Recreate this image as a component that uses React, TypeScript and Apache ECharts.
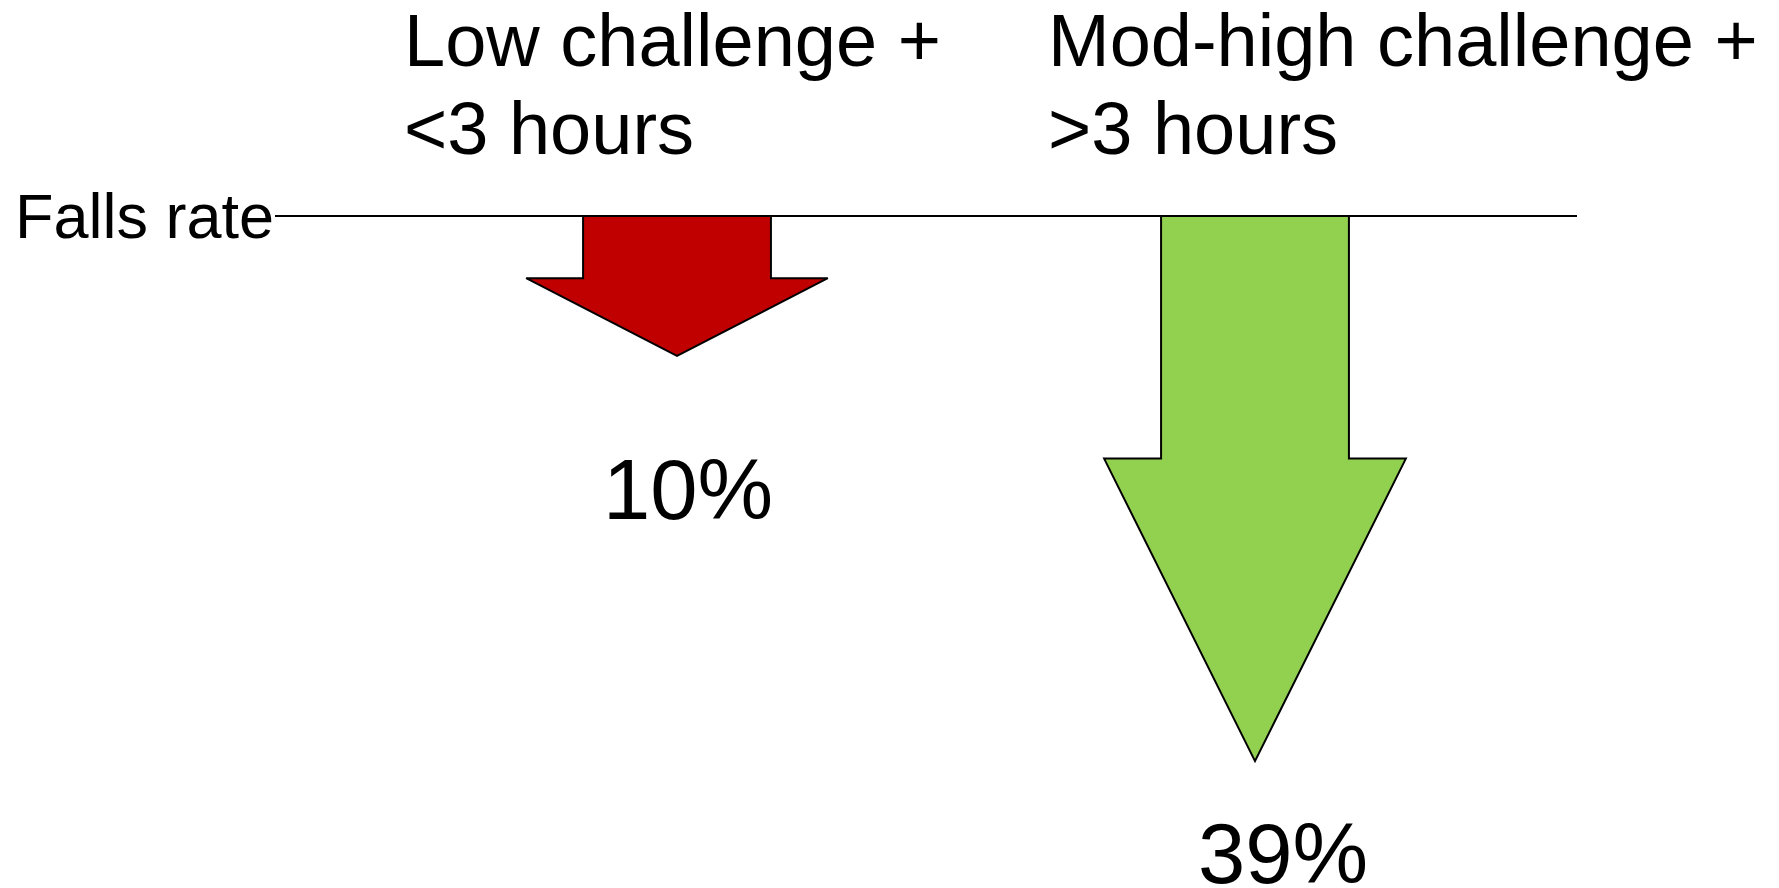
import React, { useEffect, useRef } from "react";
import * as echarts from "echarts";

// Two groups, each with its change in falls rate (percent, drawn downward)
const categories = ["Low challenge +\n<3 hours", "Mod-high challenge +\n>3 hours"];
const fallsReduction = [10, 39];
const arrowColors = ["#C00000", "#92D050"];
const axisName = "Falls rate";

const FONT = '"Liberation Sans", Arial, Helvetica, sans-serif';
const GRID_TOP = 216;

// Layout of the free-floating texts (pixel anchors)
const titleAnchors = [404, 1048];
const titleLineY = [40, 128.5];
const valueLabelAnchors = [
  [688, 489],
  [1283, 853],
];

export default function App() {
  const ref = useRef<HTMLDivElement>(null);

  useEffect(() => {
    if (!ref.current) return;
    const chart = echarts.init(ref.current, null, { renderer: "svg" });

    const graphics: any[] = [];

    // baseline "axis" with its name on the left
    graphics.push({
      type: "line",
      z: 10,
      shape: { x1: 275, y1: GRID_TOP, x2: 1577, y2: GRID_TOP },
      style: { stroke: "#000", lineWidth: 2 },
    });
    graphics.push({
      type: "text",
      x: 274,
      y: 215.5,
      style: {
        text: axisName,
        font: `63px ${FONT}`,
        fill: "#000",
        textAlign: "right",
        textVerticalAlign: "middle",
      },
    });

    // group titles above the line
    categories.forEach((cat, i) => {
      cat.split("\n").forEach((line, j) => {
        graphics.push({
          type: "text",
          x: titleAnchors[i],
          y: titleLineY[j],
          style: {
            text: line,
            font: `74px ${FONT}`,
            fill: "#000",
            textAlign: "left",
            textVerticalAlign: "middle",
          },
        });
      });
    });

    // value labels under the arrows
    fallsReduction.forEach((v, i) => {
      graphics.push({
        type: "text",
        x: valueLabelAnchors[i][0],
        y: valueLabelAnchors[i][1],
        style: {
          text: `${v}%`,
          font: `85px ${FONT}`,
          fill: "#000",
          textAlign: "center",
          textVerticalAlign: "middle",
        },
      });
    });

    chart.setOption({
      animation: false,
      backgroundColor: "#fff",
      grid: { left: 388, width: 1156, top: GRID_TOP, height: 629 },
      xAxis: {
        type: "category",
        data: categories,
        show: false,
      },
      yAxis: {
        type: "value",
        min: 0,
        max: 45,
        inverse: true,
        show: false,
      },
      series: [
        {
          type: "custom",
          data: fallsReduction.map((v, i) => [i, v]),
          renderItem: (params: any, api: any) => {
            const idx = api.value(0);
            const v = api.value(1);
            const [cx, y0] = api.coord([idx, 0]);
            const y1 = api.coord([idx, v])[1];
            const band = api.size([1, 0])[0];
            const shaftHalf = band * 0.1625;
            const headHalf = band * 0.261;
            const shoulder = y0 + (y1 - y0) * 0.445;
            return {
              type: "polygon",
              shape: {
                points: [
                  [cx - shaftHalf, y0],
                  [cx + shaftHalf, y0],
                  [cx + shaftHalf, shoulder],
                  [cx + headHalf, shoulder],
                  [cx, y1],
                  [cx - headHalf, shoulder],
                  [cx - shaftHalf, shoulder],
                ],
              },
              style: {
                fill: arrowColors[params.dataIndex],
                stroke: "#000",
                lineWidth: 2,
                lineJoin: "miter",
              },
            };
          },
        },
      ],
      graphic: graphics,
    });

    return () => chart.dispose();
  }, []);

  return (
    <div
      ref={ref}
      style={{ position: "fixed", left: 0, top: 0, width: 1779, height: 888 }}
    />
  );
}
